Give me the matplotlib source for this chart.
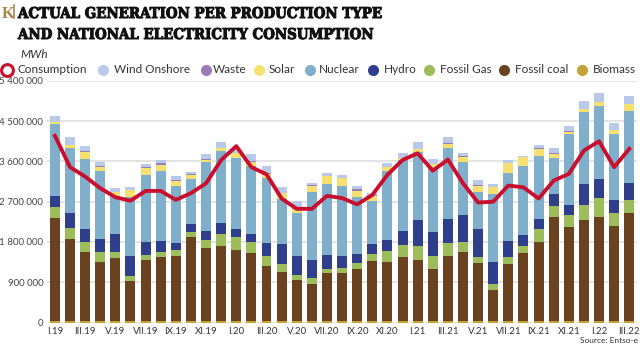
import matplotlib
matplotlib.use("Agg")
import matplotlib.pyplot as plt
from matplotlib.lines import Line2D
from matplotlib import font_manager as fm
import matplotlib.patheffects as pe
import numpy as np

months = ["I.19","II.19","III.19","IV.19","V.19","VI.19","VII.19","VIII.19","IX.19","X.19","XI.19","XII.19",
          "I.20","II.20","III.20","IV.20","V.20","VI.20","VII.20","VIII.20","IX.20","X.20","XI.20","XII.20",
          "I.21","II.21","III.21","IV.21","V.21","VI.21","VII.21","VIII.21","IX.21","X.21","XI.21","XII.21",
          "I.22","II.22","III.22"]

# cumulative tops (million MWh), converted to layers below
coal_top = [2.33,1.87,1.57,1.36,1.44,0.93,1.39,1.47,1.49,1.90,1.67,1.70,
            1.62,1.56,1.26,1.13,0.95,0.87,1.10,1.10,1.20,1.38,1.36,1.46,
            1.40,1.20,1.49,1.58,1.32,0.72,1.31,1.55,1.81,2.35,2.13,2.28,
            2.35,2.16,2.45]
gas_top = [2.58,2.12,1.79,1.58,1.58,1.03,1.52,1.57,1.61,2.02,1.84,1.97,
           1.92,1.81,1.49,1.31,1.06,1.00,1.20,1.23,1.33,1.54,1.59,1.74,
           1.72,1.49,1.77,1.81,1.47,0.86,1.46,1.70,2.10,2.60,2.41,2.63,
           2.79,2.45,2.74]
hydro_top = [2.83,2.45,2.10,1.87,1.97,1.49,1.79,1.82,1.77,2.20,2.05,2.22,
             2.08,1.97,1.77,1.75,1.49,1.39,1.51,1.49,1.54,1.75,1.84,2.05,
             2.28,2.02,2.31,2.41,2.08,1.36,1.82,1.95,2.31,2.86,2.63,3.09,
             3.20,2.74,3.12]
nuclear_top = [4.43,3.89,3.66,3.38,2.80,2.80,3.30,3.38,3.05,3.20,3.59,3.84,
               3.68,3.50,3.22,2.77,2.44,2.92,3.09,3.05,2.81,2.71,3.38,3.63,
               3.81,3.47,3.89,3.59,2.92,2.86,3.35,3.50,3.73,3.68,4.20,4.70,
               4.83,4.20,4.73]
solar_top = [4.47,3.96,3.82,3.47,2.91,2.95,3.46,3.52,3.17,3.30,3.64,3.89,
             3.78,3.59,3.32,2.89,2.54,3.06,3.27,3.22,2.94,2.83,3.47,3.67,
             3.87,3.53,3.99,3.70,3.06,3.02,3.56,3.69,3.88,3.76,4.26,4.76,
             4.92,4.30,4.88]
wind_top = [4.61,4.14,3.94,3.59,3.00,3.02,3.53,3.63,3.27,3.36,3.76,4.04,
            3.87,3.76,3.50,3.02,2.71,3.12,3.33,3.30,3.05,2.89,3.56,3.79,
            4.04,3.65,4.15,3.79,3.18,3.09,3.63,3.73,3.96,3.89,4.40,4.95,
            5.13,4.45,5.06]
waste = [10,10,10,35,15,10,10,35,10,10,10,10,
         10,10,10,10,10,10,10,10,35,10,10,10,
         10,10,10,10,10,10,10,10,10,30,10,10,
         10,10,10]  # thousand MWh
biomass = [25]*39  # thousand MWh
consumption = [4.17,3.47,3.26,3.00,2.80,2.72,2.94,2.94,2.74,2.89,3.11,3.63,
               3.94,3.47,3.31,2.77,2.54,2.54,2.83,2.78,2.64,2.85,3.30,3.63,
               3.78,3.39,3.64,3.11,2.68,2.70,3.06,3.02,2.77,3.17,3.32,3.84,
               4.05,3.47,3.88]

M = 1e6
bio = np.array(biomass) * 1e3
coal = np.array(coal_top) * M - bio
gas = (np.array(gas_top) - np.array(coal_top)) * M
hydro = (np.array(hydro_top) - np.array(gas_top)) * M
nuclear = (np.array(nuclear_top) - np.array(hydro_top)) * M
solar = (np.array(solar_top) - np.array(nuclear_top)) * M
wst = np.array(waste) * 1e3
wind = (np.array(wind_top) - np.array(solar_top)) * M - wst
wind = np.clip(wind, 0, None)
cons = np.array(consumption) * M

colors = {
    "Biomass": "#c4a235",
    "Fossil coal": "#6a421f",
    "Fossil Gas": "#9dbd5b",
    "Hydro": "#2f3f8c",
    "Nuclear": "#80afcb",
    "Solar": "#f6e170",
    "Waste": "#9a7db9",
    "Wind Onshore": "#b8c9ea",
}
layers = [("Biomass", bio), ("Fossil coal", coal), ("Fossil Gas", gas), ("Hydro", hydro),
          ("Nuclear", nuclear), ("Solar", solar), ("Waste", wst), ("Wind Onshore", wind)]

W, H = 640, 348
fig = plt.figure(figsize=(6.4, 3.48), dpi=100)
ax = fig.add_axes([0.074, 0.073, 0.921, 0.695])

x = np.arange(len(months))
bottom = np.zeros(len(months))
for name, vals in layers:
    ax.bar(x, vals, bottom=bottom, width=0.66, color=colors[name], linewidth=0, zorder=2)
    bottom += vals

ax.plot(x, cons, color="#c8102e", lw=2.8, zorder=4, solid_joinstyle="round")

ax.set_xlim(-0.5, len(months) - 0.5)
ax.set_ylim(0, 5.4e6)
yt = np.arange(0, 5.4e6 + 1, 9e5)
ax.set_yticks(yt)
ax.set_yticklabels(["0" if v == 0 else f"{int(v):,}".replace(",", " ") for v in yt],
                   fontsize=7, color="#444444", family="Lato")
ax.set_xticks(x[::2])
ax.set_xticklabels(months[::2], fontsize=7, color="#333333", family="Lato")
ax.tick_params(axis="both", length=0, pad=3)
ax.grid(axis="y", color="#dddddd", lw=1.1, zorder=0)
ax.set_axisbelow(True)
for s in ax.spines.values():
    s.set_visible(False)

# Title block: pick a condensed serif if available
title_family = "Liberation Serif"
title_stretch = "normal"
try:
    fp = fm.FontProperties(family="DejaVu Serif", stretch="condensed", weight="bold")
    path = fm.findfont(fp, fallback_to_default=False)
    if "Condensed" in path:
        title_family = "DejaVu Serif"
        title_stretch = "condensed"
except Exception:
    pass

bold_fx = [pe.withStroke(linewidth=0.7, foreground="#111111")]
line1 = "ACTUAL GENERATION PER PRODUCTION TYPE"
line2 = "AND NATIONAL ELECTRICITY CONSUMPTION"
t1 = fig.text(18 / W, 1 - 18 / H, line1, fontsize=13, fontweight="bold", color="#111111",
              family=title_family, fontstretch=title_stretch, va="baseline", ha="left",
              path_effects=bold_fx)
t2 = fig.text(18 / W, 1 - 39 / H, line2, fontsize=13, fontweight="bold", color="#111111",
              family=title_family, fontstretch=title_stretch, va="baseline", ha="left",
              path_effects=bold_fx)
fig.canvas.draw()
r = fig.canvas.get_renderer()
w1 = t1.get_window_extent(r).width
fs = 13 * 363.0 / w1
fs = min(fs, 15)
t1.set_fontsize(fs)
t2.set_fontsize(fs)

fig.text(2 / W, 1 - 18 / H, "K", fontsize=12, fontweight="bold", color="#a8864c",
         family="Liberation Serif", va="baseline", ha="left")
fig.add_artist(Line2D([13.5 / W, 13.5 / W], [1 - 5 / H, 1 - 18 / H], color="#a8864c",
                      lw=1.2, transform=fig.transFigure))
fig.text(20 / W, 1 - 55 / H, "MWh", fontsize=8.5, style="italic", color="#333333",
         family="Lato", va="center", ha="left")

# Legend (manual row)
leg_y = 1 - 69.5 / H
items = [("Consumption", 7.4, 18), ("Wind Onshore", 103, 114), ("Waste", 206, 213),
         ("Solar", 259, 269), ("Nuclear", 310, 319), ("Hydro", 373, 384),
         ("Fossil Gas", 429, 440), ("Fossil coal", 504, 515), ("Biomass", 582, 593)]
for name, mx, tx in items:
    if name == "Consumption":
        fig.add_artist(Line2D([mx / W], [leg_y], marker="o", markersize=8.5,
                              markerfacecolor="white", markeredgecolor="#c8102e",
                              markeredgewidth=2.2, transform=fig.transFigure))
    else:
        fig.add_artist(Line2D([mx / W], [leg_y], marker="o", markersize=8,
                              markerfacecolor=colors[name], markeredgewidth=0,
                              transform=fig.transFigure))
    fig.text(tx / W, leg_y, name, fontsize=8.5, color="#333333", family="Lato",
             va="center", ha="left")

fig.text(0.997, 0.012, "Source: Entso-e", fontsize=6, color="#333333", family="Lato",
         ha="right", va="bottom")

fig.savefig("out.png", dpi=100)
